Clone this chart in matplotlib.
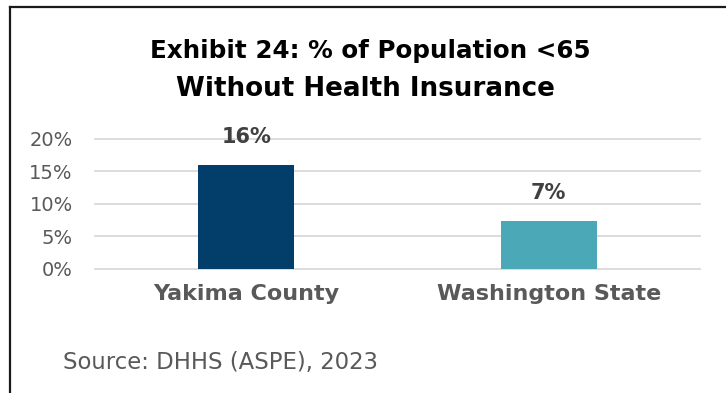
import numpy as np
import matplotlib.pyplot as plt
from matplotlib.lines import Line2D
from matplotlib.ticker import FuncFormatter

categories = ["Yakima County", "Washington State"]
uninsured = [0.16, 0.074]
bar_colors = ["#033d69", "#4ba8b7"]
yticks = [0, 0.05, 0.10, 0.15, 0.20]

plt.rcParams['font.family'] = ['DejaVu Sans']

W, H = 726, 393
fig = plt.figure(figsize=(W / 100, H / 100), dpi=100)
ax = fig.add_axes([95/W, 1 - 269/H, 605/W, 130.3/H])

x = np.arange(len(categories))
ax.bar(x, uninsured, width=0.317, color=bar_colors, zorder=3)
for xi, v in zip(x, uninsured):
    ax.text(xi, v + 0.027, f"{v*100:.0f}%", ha="center", va="bottom",
            fontsize=15, fontweight="bold", color="#404040")

ax.set_xlim(-0.5, 1.5)
ax.set_ylim(0, 0.2)
ax.set_yticks(yticks)
ax.yaxis.set_major_formatter(FuncFormatter(lambda v, p: f"{v*100:.0f}%"))
ax.grid(axis="y", color="#d9d9d9", linewidth=1.3, zorder=0)
# keep the 0% and 20% lines at full width instead of half clipped
for gl in ax.get_ygridlines():
    gl.set_clip_on(False)
ax.set_xticks(x)
ax.set_xticklabels(categories, fontsize=16, fontweight="bold", color="#595959")
ax.tick_params(axis="y", length=0, pad=16, labelsize=14, labelcolor="#595959")
ax.tick_params(axis="x", length=0, pad=11)
for s in ax.spines.values():
    s.set_visible(False)

fig.text(370/W, 1 - 58/H, "Exhibit 24: % of Population <65", ha="center",
         va="baseline", fontsize=17.7, fontweight="bold", color="black")
fig.text(365.5/W, 1 - 96/H, "Without Health Insurance", ha="center",
         va="baseline", fontsize=18.8, fontweight="bold", color="black")
fig.text(63/W, 1 - 362/H, "Source: DHHS (ASPE), 2023", ha="left", va="center",
         fontsize=16.4, color="#595959")

# outer frame: left and top edges only
fig.add_artist(Line2D([9.5/W, 9.5/W], [0, 1 - 7/H], transform=fig.transFigure,
                      color="#1a1a1a", linewidth=1.6))
fig.add_artist(Line2D([9.5/W, 1], [1 - 7/H, 1 - 7/H], transform=fig.transFigure,
                      color="#1a1a1a", linewidth=1.6))

fig.savefig("out.png", dpi=100)
